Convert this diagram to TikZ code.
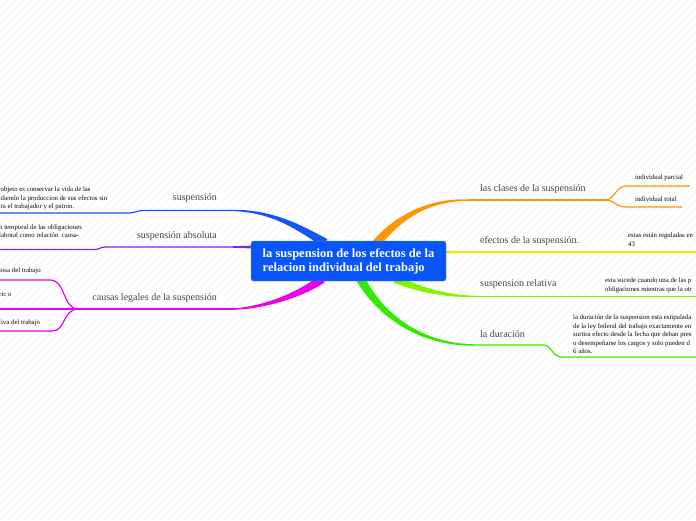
\documentclass[tikz,border=0pt]{standalone}
\usepackage{fontspec}
\setmainfont{Liberation Serif}
\usetikzlibrary{calc}
\definecolor{cblue}{RGB}{20,85,245}
\definecolor{cpurple}{RGB}{120,40,235}
\definecolor{cmag}{RGB}{235,0,235}
\definecolor{corange}{RGB}{255,150,0}
\definecolor{cyellow}{RGB}{235,235,0}
\definecolor{clime}{RGB}{130,245,0}
\definecolor{cgreen}{RGB}{50,235,0}
\definecolor{cnode}{RGB}{8,85,250}
\definecolor{clabel}{RGB}{70,70,70}
\definecolor{cleaf}{RGB}{10,10,10}
\newcommand\mmtaper[9]{\fill[#1] ($(#2)+#6$) .. controls ($(#3)+#7$) and ($(#4)+#8$) .. ($(#5)+#9$) -- ($(#5)-#9$) .. controls ($(#4)-#8$) and ($(#3)-#7$) .. ($(#2)-#6$) -- cycle;}
\tikzset{
  central/.style={fill=cnode, draw=cnode!70!white, rounded corners=2.5pt, text=white,
    font=\bfseries\fontsize{12.5}{14}\selectfont, align=left, minimum width=195pt, minimum height=40pt, inner sep=0pt},
  mainlabel/.style={text=clabel, font=\fontsize{10}{12}\selectfont, inner sep=0pt},
  leaf/.style={text=cleaf, font=\fontsize{6.8}{8.4}\selectfont, align=left, inner sep=0pt},
  thin/.style={line width=1.2pt},
}
\begin{document}
\begin{tikzpicture}[x=1pt,y=-1pt]
\useasboundingbox (0,0) rectangle (696,520);
\clip (0,0) rectangle (696,520);
\fill[white] (0,0) rectangle (696,520);
\foreach \i in {-520,-512,...,700} \draw[black!4, line width=0.5pt] (\i,520) -- ++(520,-520);

% coordinates
\coordinate (bA) at (325,243); \coordinate (bC1) at (300,228); \coordinate (bC2) at (275,212); \coordinate (bB) at (236,210.5);
\coordinate (pA) at (258,247); \coordinate (pC1) at (250,247); \coordinate (pC2) at (240,247); \coordinate (pB) at (232,247);
\coordinate (mA) at (322,279); \coordinate (mC1) at (300,295); \coordinate (mC2) at (265,307); \coordinate (mB) at (236,309);
\coordinate (oA) at (376,244); \coordinate (oC1) at (400,215); \coordinate (oC2) at (430,200); \coordinate (oB) at (468,200);
\coordinate (yA) at (440,252); \coordinate (yC1) at (450,252); \coordinate (yC2) at (460,252); \coordinate (yB) at (470,252);
\coordinate (lA) at (395,279); \coordinate (lC1) at (420,290); \coordinate (lC2) at (445,296); \coordinate (lB) at (475,296.5);
\coordinate (gA) at (360,278); \coordinate (gC1) at (380,315); \coordinate (gC2) at (420,345); \coordinate (gB) at (475,345);

% tapered connectors
\mmtaper{cblue}{bA}{bC1}{bC2}{bB}{(-2.3,3.9)}{(-1.5,2.6)}{(-0.4,1.45)}{(0,0.7)}
\mmtaper{cpurple}{pA}{pC1}{pC2}{pB}{(0,1.6)}{(0,1.4)}{(0,1)}{(0,0.7)}
\mmtaper{cmag}{mA}{mC1}{mC2}{mB}{(2.6,3.6)}{(1.7,2.4)}{(0.35,1.55)}{(0,0.7)}
\mmtaper{corange}{oA}{oC1}{oC2}{oB}{(3.4,3)}{(2.2,2)}{(0.3,1.5)}{(0,0.7)}
\mmtaper{cyellow}{yA}{yC1}{yC2}{yB}{(0,1.5)}{(0,1.3)}{(0,1)}{(0,0.7)}
\mmtaper{clime}{lA}{lC1}{lC2}{lB}{(-1.6,3.7)}{(-1,2.4)}{(-0.2,1.4)}{(0,0.7)}
\mmtaper{cgreen}{gA}{gC1}{gC2}{gB}{(-4,2.1)}{(-2.2,2)}{(-0.5,1.5)}{(0,0.7)}

% central node
\node[central] (c) at (348.5,261) {la suspension de los efectos de la\\relacion individual del trabajo};

% left: suspension
\coordinate (b1) at (145,210.5); \coordinate (b2) at (127,213); \coordinate (b3) at (0,213);
\draw[cblue, thin] (bB) -- (b1) .. controls (136,210.5) and (136,213) .. (b2) -- (b3);
\node[mainlabel, anchor=east] (lb) at (217,198) {suspensión};
\node[leaf, anchor=north west] (tb) at (0.5,187) {objeto es conservar la vida de las\\diendo la produccion de sus efectos sin\\ra el trabajador y el patron.};

% left: suspension absoluta
\coordinate (p1) at (105,247); \coordinate (p2) at (95,249.5); \coordinate (p3) at (0,249.5);
\draw[cpurple, thin] (pB) -- (p1) .. controls (100,247) and (100,249.5) .. (p2) -- (p3);
\node[mainlabel, anchor=east] (lp) at (217,236) {suspensión absoluta};
\node[leaf, anchor=north west] (tp) at (-1,224.3) {n temporal de las obligaciones\\laboral como relación\ \ causa-};

% left: causas legales
\coordinate (mj) at (78,309);
\coordinate (m1) at (50,280); \coordinate (m1e) at (0,280);
\coordinate (m2e) at (0,309);
\coordinate (m3) at (52,331); \coordinate (m3e) at (0,331);
\draw[cmag, thin] (mB) -- (mj);
\draw[cmag, thin] (mj) .. controls (62,308) and (66,280) .. (m1) -- (m1e);
\draw[cmag, thin] (mj) -- (m2e);
\draw[cmag, thin] (mj) .. controls (62,310) and (66,331) .. (m3) -- (m3e);
\node[mainlabel, anchor=east] (lm) at (217,298) {causas legales de la suspensión};
\node[leaf, anchor=west] (tm1) at (-1,271) {iosa del trabajo};
\node[leaf, anchor=west] (tm2) at (-1,294) {ric o};
\node[leaf, anchor=west] (tm3) at (-1,322.5) {tiva del trabajo};

% right: las clases
\coordinate (oj) at (605,200);
\coordinate (o1) at (627,186); \coordinate (o1e) at (690,186);
\coordinate (o2) at (627,207); \coordinate (o2e) at (682,207);
\draw[corange, thin] (oB) -- (oj);
\draw[corange, thin] (oj) .. controls (615,200) and (615,186) .. (o1) -- (o1e);
\draw[corange, thin] (oj) .. controls (615,200) and (615,207) .. (o2) -- (o2e);
\node[mainlabel, anchor=west] (lo) at (480,189) {las clases de la suspensión};
\node[leaf, anchor=west] (to1) at (635,178) {individual parcial};
\node[leaf, anchor=west] (to2) at (635,199.5) {individual total};

% right: efectos
\coordinate (ye) at (696,252);
\draw[cyellow, thin] (yB) -- (ye);
\node[mainlabel, anchor=west] (ly) at (480,241) {efectos de la suspensión.};
\node[leaf, anchor=north west] (ty) at (628,232.8) {estas están reguladas en\\43};

% right: suspension relativa
\coordinate (le) at (696,296.5);
\draw[clime, thin] (lB) -- (le);
\node[mainlabel, anchor=west] (ll) at (480,284) {suspension relativa};
\node[leaf, anchor=north west] (tl) at (605,278) {esta sucede cuando una de las p\\obligaciones mientras que la otr};

% right: la duracion
\coordinate (g1) at (543,345); \coordinate (g2) at (562,357); \coordinate (ge) at (696,357);
\draw[cgreen, thin] (gB) -- (g1) .. controls (552,345) and (552,357) .. (g2) -- (ge);
\node[mainlabel, anchor=west] (lg) at (480,334) {la duración};
\node[leaf, anchor=north west] (tg) at (573,315) {la duración de la suspension esta estipulada\\de la ley federal del trabajo exactamente en\\surtira efecto desde la fecha que deban pres\\o desempeñarse los cargos y solo pueden d\\6 años.};
\end{tikzpicture}
\end{document}
